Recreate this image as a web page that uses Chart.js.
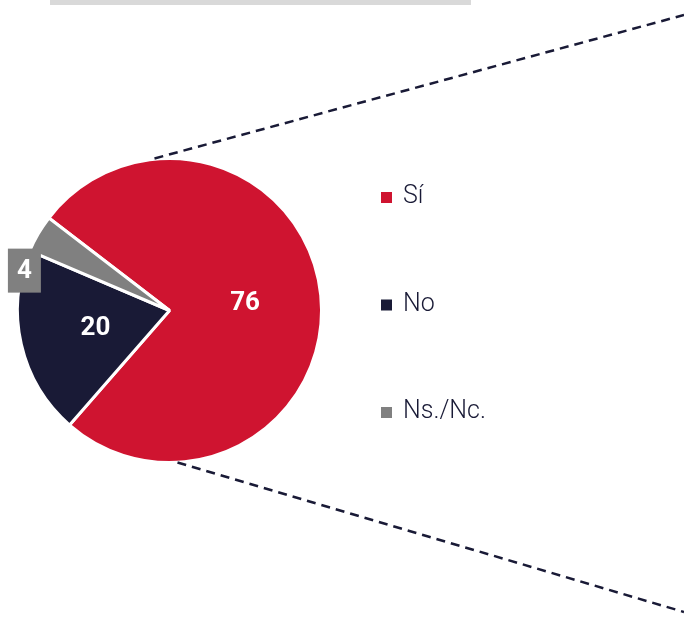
<!DOCTYPE html>
<html>
<head>
<meta charset="utf-8">
<script src="https://cdn.jsdelivr.net/npm/chart.js@4.4.0/dist/chart.umd.min.js"></script>
<style>
html, body { margin: 0; padding: 0; background: #fff; }
#wrap { width: 684px; height: 627px; position: relative; }
</style>
</head>
<body>
<div id="wrap"><canvas id="myChart" width="684" height="627"></canvas></div>
<script>
var labels = ["Sí", "No", "Ns./Nc."];
var values = [76, 20, 4];
var colors = ["#cf1430", "#191a36", "#808080"];
var textColor = "#191a36";

var extras = {
	id: "extras",
	beforeDraw: function(chart){
		var c = chart.ctx;
		c.save();
		c.fillStyle = "#d9d9d9";
		c.fillRect(50, 0, 421, 5);
		c.restore();
	},
	afterDraw: function(chart){
		var c = chart.ctx,
			meta = chart.getDatasetMeta(0),
			first = meta.data[0],
			cx = first.x, cy = first.y, R = first.outerRadius;

		// dashed zoom lines
		c.save();
		c.strokeStyle = textColor;
		c.lineWidth = 2.5;
		c.setLineDash([9, 6]);
		c.beginPath();
		c.moveTo(cx - 15, cy - R);
		c.lineTo(684, 15);
		c.moveTo(cx + 8, cy + R);
		c.lineTo(684, 612);
		c.stroke();
		c.restore();

		// value labels
		c.save();
		c.font = "bold 26px Roboto, 'Noto Sans', sans-serif";
		c.textAlign = "center";
		c.textBaseline = "middle";
		meta.data.forEach(function(arc, i){
			if (values[i] < 10) {
				var a = arc.startAngle - 0.135,
					x = cx + Math.cos(a) * R * 0.99,
					y = cy + Math.sin(a) * R * 0.99;
				c.fillStyle = colors[i];
				c.fillRect(x - 16.5, y - 22, 33, 44);
				c.fillStyle = "#fff";
				c.fillText(values[i], x, y + 1);
			} else {
				var p = arc.getCenterPoint();
				c.fillStyle = "#fff";
				c.fillText(values[i], p.x, p.y + 1);
			}
		});
		c.restore();

		// legend
		c.save();
		c.font = "300 25px Roboto, 'Noto Sans', sans-serif";
		c.textBaseline = "middle";
		labels.forEach(function(l, i){
			var y = 197 + i * 107.5;
			c.fillStyle = colors[i];
			c.fillRect(381, y - 5, 11, 11);
			c.fillStyle = textColor;
			c.fillText(l, 403, y);
		});
		c.restore();
	}
};

var myChart = new Chart(document.getElementById("myChart"), {
	type: "pie",
	data: {
		labels: labels,
		datasets: [{
			data: values,
			backgroundColor: colors,
			borderColor: "#fff",
			borderWidth: 3
		}]
	},
	options: {
		responsive: false,
		animation: false,
		rotation: -52.5,
		layout: { padding: { left: 16, right: 361, top: 157, bottom: 163 } },
		plugins: {
			legend: { display: false },
			tooltip: { enabled: false }
		}
	},
	plugins: [extras]
});
</script>
</body>
</html>
